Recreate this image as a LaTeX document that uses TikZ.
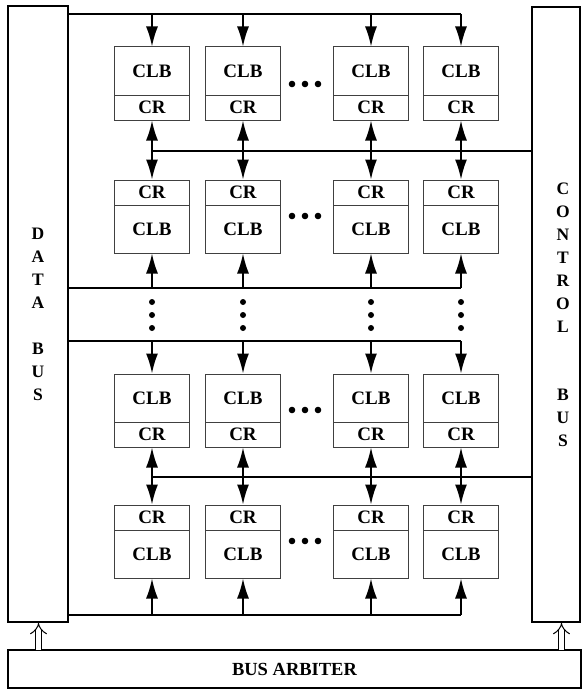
\documentclass[tikz,border=0pt]{standalone}
\usepackage{fontspec}
\setmainfont{Liberation Serif}
\usetikzlibrary{arrows.meta}
\begin{document}
\begin{tikzpicture}[x=1pt,y=-1pt,
  cell/.style={draw=black!75, line width=1pt, minimum width=75pt, inner sep=0pt,
               fill=white, font=\fontsize{19}{19}\selectfont\bfseries},
  clb/.style={cell, minimum height=48pt},
  cr/.style={cell, minimum height=25pt},
  bus/.style={draw=black, line width=2pt, inner sep=0pt},
  link/.style={line width=1.7pt},
  onetip/.style={link, -{Latex[length=20pt,width=12pt]}},
  twotips/.style={link, {Latex[length=20pt,width=12pt]}-{Latex[length=20pt,width=12pt]}},
  feed/.style={line width=1pt, double distance=5pt, -{Implies}},
  dot/.style={fill=black},
]
\useasboundingbox (0,0) rectangle (587,693);

% buses
\node[bus, minimum width=60pt, minimum height=616pt] (db) at (38,314) {};
\node[bus, minimum width=48pt, minimum height=615pt] (cb) at (556,314.5) {};
\node[bus, minimum width=573pt, minimum height=38pt,
      font=\fontsize{18.5}{18.5}\selectfont\bfseries] (arb) at (294.5,669) {BUS ARBITER};

\node[align=center, font=\fontsize{17.5}{23}\selectfont\bfseries] (dbl) at (38,314)
  {D\\A\\T\\A\\[23pt]B\\U\\S};
\node[align=center, font=\fontsize{17.5}{23}\selectfont\bfseries] (cbl) at (563,315)
  {C\\O\\N\\T\\R\\O\\L\\[45pt]B\\U\\S};

% arbiter feeds
\coordinate (fa) at (38.5,650);
\coordinate (fb) at (561.5,650);
\draw[feed] (fa) -- (fa |- db.south);
\draw[feed] (fb) -- (fb |- cb.south);

% logic blocks with their routing cells
\foreach \c/\x in {1/152,2/243,3/371,4/461}{
  % row 1
  \node[clb] (clbA\c) at (\x,71) {CLB};
  \node[cr]  (crA\c)  at (\x,107.5) {CR};
  % row 2
  \node[cr]  (crB\c)  at (\x,192.5) {CR};
  \node[clb] (clbB\c) at (\x,229) {CLB};
  % row 3
  \node[clb] (clbC\c) at (\x,398) {CLB};
  \node[cr]  (crC\c)  at (\x,434.5) {CR};
  % row 4
  \node[cr]  (crD\c)  at (\x,517.5) {CR};
  \node[clb] (clbD\c) at (\x,554) {CLB};

  % taps on the bus lines
  \coordinate (tA\c) at (\x,14);
  \coordinate (tB\c) at (\x,151);
  \coordinate (tC\c) at (\x,288);
  \coordinate (tD\c) at (\x,341);
  \coordinate (tE\c) at (\x,477);
  \coordinate (tF\c) at (\x,615);

  \draw[onetip] (tA\c) -- (clbA\c.north);
  \draw[twotips] (crA\c.south) -- (crB\c.north);
  \draw[onetip] (tC\c) -- (clbB\c.south);
  \draw[onetip] (tD\c) -- (clbC\c.north);
  \draw[twotips] (crC\c.south) -- (crD\c.north);
  \draw[onetip] (tF\c) -- (clbD\c.south);

  % vertical ellipsis
  \fill[dot] (\x,302) circle (3pt);
  \fill[dot] (\x,315) circle (3pt);
  \fill[dot] (\x,328) circle (3pt);
}

% horizontal bus lines
\draw[link] (db.east |- tA1) -- (tA4);
\draw[link] (tB1) -- (cb.west |- tB1);
\draw[link] (db.east |- tC1) -- (tC4);
\draw[link] (db.east |- tD1) -- (tD4);
\draw[link] (tE1) -- (cb.west |- tE1);
\draw[link] (db.east |- tF1) -- (tF4);

% horizontal ellipsis in each row
\foreach \y in {84,216,410,541}{
  \fill[dot] (292,\y) circle (3.3pt);
  \fill[dot] (305,\y) circle (3.3pt);
  \fill[dot] (318,\y) circle (3.3pt);
}
\end{tikzpicture}
\end{document}
